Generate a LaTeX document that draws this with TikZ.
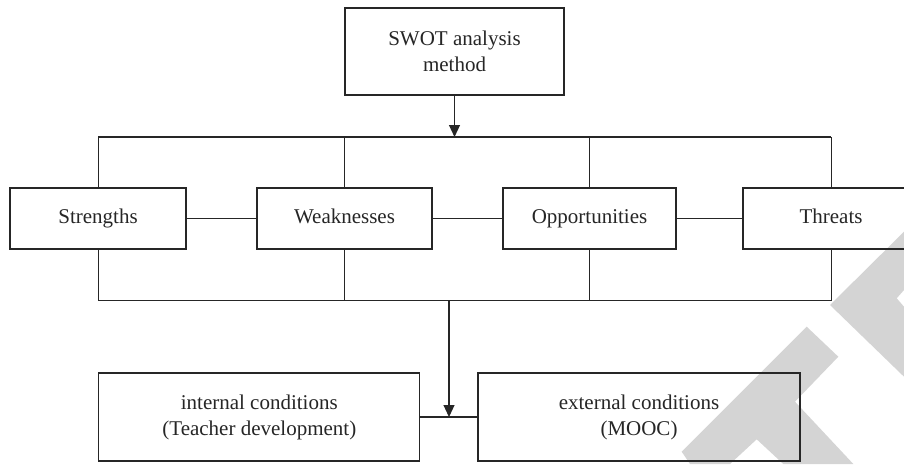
\documentclass[tikz,border=0pt]{standalone}
\usepackage{fontspec}
\setmainfont{Liberation Serif}
\usetikzlibrary{arrows.meta}
\definecolor{wmgray}{RGB}{212,212,212}
\tikzset{
  box/.style={draw=black!85, line width=1.3pt, rectangle, inner sep=0pt, align=center,
    font=\fontsize{21}{26}\selectfont, text=black!85},
  onebox/.style={box, text height=14pt, text depth=5pt},
  frame/.style={draw=black!85, line width=1.3pt},
  thin/.style={draw=black!85, line width=0.9pt},
  arr/.style={draw=black!85, line width=1.1pt, -{Triangle[length=12pt,width=11pt]}},
  wm/.style={fill=wmgray, draw=none}
}
\begin{document}
\begin{tikzpicture}[x=1pt,y=-1pt]
\clip (0,0) rectangle (904,464);
\fill[white] (0,0) rectangle (904,464);
% watermark
\fill[wm] (806.7,326.7) -- (838.3,356.7) -- (795,401.7) -- (853.3,464) -- (783.3,464)
  -- (756.7,439.3) -- (730,464) -- (690,464) -- (681.7,451.7) -- cycle;
\fill[wm] (830,305) -- (904,231.7) -- (904,290) -- (896.7,298.3) -- (904,306.7)
  -- (904,376.7) -- cycle;
% nodes
\node[box, minimum width=219pt, minimum height=87pt] (swot) at (454.5,51.5) {SWOT analysis\\method};
\node[onebox, minimum width=176pt, minimum height=61pt] (S) at (98,218.5) {Strengths};
\node[onebox, minimum width=175pt, minimum height=61pt] (W) at (344.5,218.5) {Weaknesses};
\node[onebox, minimum width=173pt, minimum height=61pt] (O) at (589.5,218.5) {Opportunities};
\node[onebox, minimum width=176pt, minimum height=61pt] (T) at (831,218.5) {Threats};
\node[box, minimum width=321pt, minimum height=88pt] (I) at (259.3,417) {internal conditions\\(Teacher development)};
\node[box, minimum width=322pt, minimum height=88pt] (E) at (639,417) {external conditions\\(MOOC)};
% frame coordinates
\coordinate (tl) at (98,137);
\coordinate (tr) at (831,137);
\coordinate (bl) at (98,300.5);
\coordinate (br) at (831,300.5);
\coordinate (bm) at (449,300.5);
% top arrow
\draw[arr] (swot.south) -- (swot.south |- tl);
% top frame line and verticals
\draw[frame] (tl) -- (tr);
\draw[thin] (S.north) -- (S.north |- tl);
\draw[thin] (W.north) -- (W.north |- tl);
\draw[thin] (O.north) -- (O.north |- tl);
\draw[thin] (T.north) -- (T.north |- tl);
% connectors between boxes
\draw[frame] (S.east) -- (W.west);
\draw[frame] (W.east) -- (O.west);
\draw[frame] (O.east) -- (T.west);
% bottom frame line and verticals
\draw[frame] (bl) -- (br);
\draw[thin] (S.south) -- (S.south |- bl);
\draw[thin] (W.south) -- (W.south |- bl);
\draw[thin] (O.south) -- (O.south |- bl);
\draw[thin] (T.south) -- (T.south |- bl);
% bottom arrow and connector
\draw[frame] (I.east) -- (E.west);
\draw[arr] (bm) -- (bm |- I.east);
\end{tikzpicture}
\end{document}
